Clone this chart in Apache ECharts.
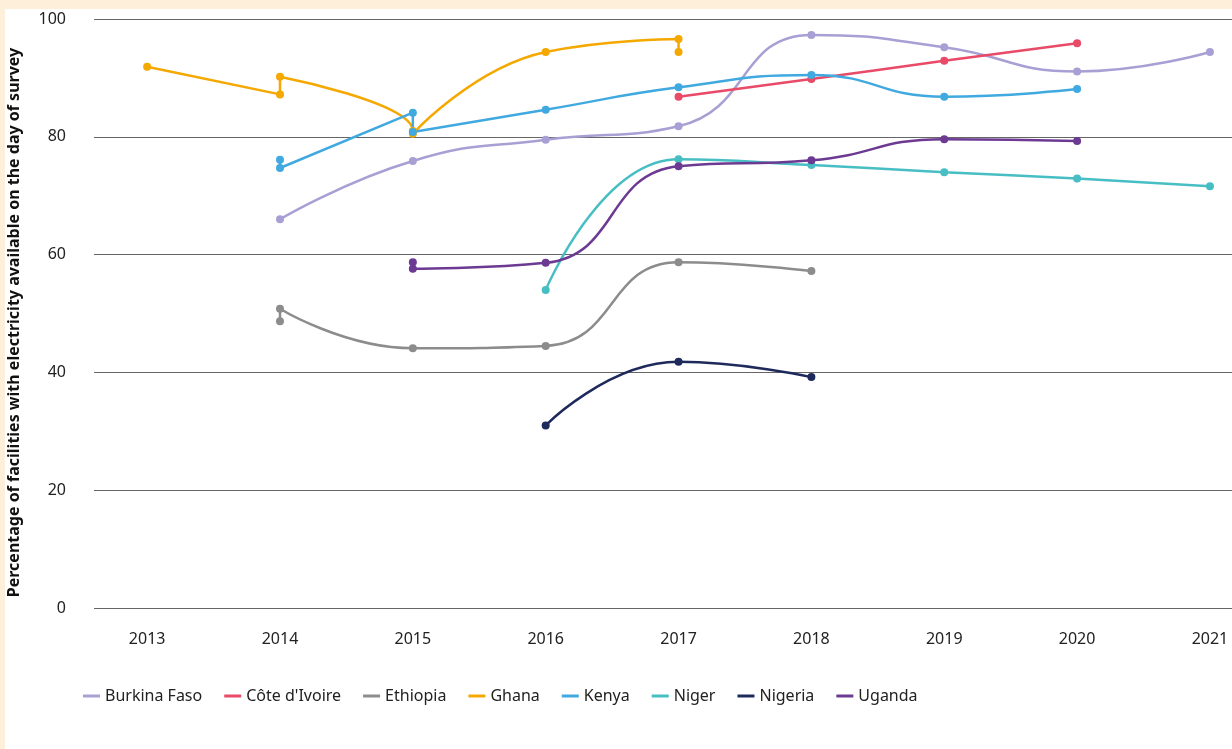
<!DOCTYPE html>
<html>
<head>
<meta charset="utf-8">
<script src="https://cdn.jsdelivr.net/npm/echarts@6/dist/echarts.min.js"></script>
<style>
  html, body { margin: 0; padding: 0; background: #fdefd9; }
  #chart { position: absolute; left: 5px; top: 9px; width: 1227px; height: 740px; background: #fff; }
</style>
</head>
<body>
<div id="chart"></div>
<script>
// each point is [year, percentage]; repeated years are separate surveys
const years = [2013, 2014, 2015, 2016, 2017, 2018, 2019, 2020, 2021]
const burkinaFaso = [[2014, 66.0], [2015, 75.9], [2016, 79.5], [2017, 81.8], [2018, 97.3], [2019, 95.2], [2020, 91.1], [2021, 94.4]]
const coteDIvoire = [[2017, 86.8], [2018, 89.8], [2019, 92.9], [2020, 95.9]]
const ethiopia = [[2014, 48.7], [2014, 50.8], [2015, 44.1], [2016, 44.5], [2017, 58.7], [2018, 57.2]]
const ghana = [[2013, 91.9], [2014, 87.2], [2014, 90.2], [2015, 81.0], [2015, 80.5], [2016, 94.4], [2017, 96.6], [2017, 94.4]]
const kenya = [[2014, 76.1], [2014, 74.7], [2015, 84.1], [2015, 80.8], [2016, 84.6], [2017, 88.4], [2018, 90.5], [2019, 86.8], [2020, 88.1]]
const niger = [[2016, 54.0], [2017, 76.2], [2018, 75.2], [2019, 74.0], [2020, 72.9], [2021, 71.6]]
const nigeria = [[2016, 31.0], [2017, 41.8], [2018, 39.2]]
const uganda = [[2015, 58.7], [2015, 57.6], [2016, 58.6], [2017, 75.0], [2018, 76.0], [2019, 79.6], [2020, 79.3]]

const seriesDefs = [
  ['Burkina Faso', burkinaFaso, '#a8a0d4'],
  ["Côte d'Ivoire", coteDIvoire, '#e84a68'],
  ['Ethiopia', ethiopia, '#8c8c8c'],
  ['Ghana', ghana, '#f5a800'],
  ['Kenya', kenya, '#40a9e0'],
  ['Niger', niger, '#47bec4'],
  ['Nigeria', nigeria, '#1f2a5c'],
  ['Uganda', uganda, '#6c3a92']
]

const font = 'Noto Sans'
const chart = echarts.init(document.getElementById('chart'))
chart.setOption({
  animation: false,
  textStyle: { fontFamily: font },
  color: seriesDefs.map(s => s[2]),
  grid: { left: 89, right: 0, top: 10, bottom: 141, outerBoundsMode: 'none', containLabel: false },
  xAxis: {
    type: 'value',
    min: 2012.6,
    max: 2021.166,
    axisLine: { show: false },
    axisTick: { show: false },
    splitLine: { show: false },
    axisLabel: {
      customValues: years,
      formatter: v => String(v),
      margin: 23,
      fontSize: 16,
      color: '#222',
      fontFamily: font
    }
  },
  yAxis: {
    type: 'value',
    min: 0,
    max: 100,
    interval: 20,
    name: 'Percentage of facilities with electricity available on the day of survey',
    nameLocation: 'middle',
    nameGap: 72,
    nameTextStyle: { fontSize: 16, fontWeight: 'bold', color: '#111', fontFamily: font, padding: [0, 18, 0, 0] },
    axisLine: { show: false },
    axisTick: { show: false },
    axisLabel: { margin: 28, fontSize: 16, color: '#222', fontFamily: font },
    splitLine: { lineStyle: { color: '#666', width: 1.2 } }
  },
  legend: {
    left: 78,
    top: 679,
    padding: 0,
    icon: 'rect',
    itemWidth: 17,
    itemHeight: 3,
    itemGap: 22,
    textStyle: { fontSize: 16, color: '#222', fontFamily: font },
    data: seriesDefs.map(s => s[0])
  },
  series: seriesDefs.map(([name, data, color]) => ({
    name: name,
    type: 'line',
    data: data,
    smooth: 0.5,
    symbol: 'circle',
    symbolSize: 8,
    lineStyle: { width: 2.5, color: color },
    itemStyle: { color: color }
  }))
})
</script>
</body>
</html>
